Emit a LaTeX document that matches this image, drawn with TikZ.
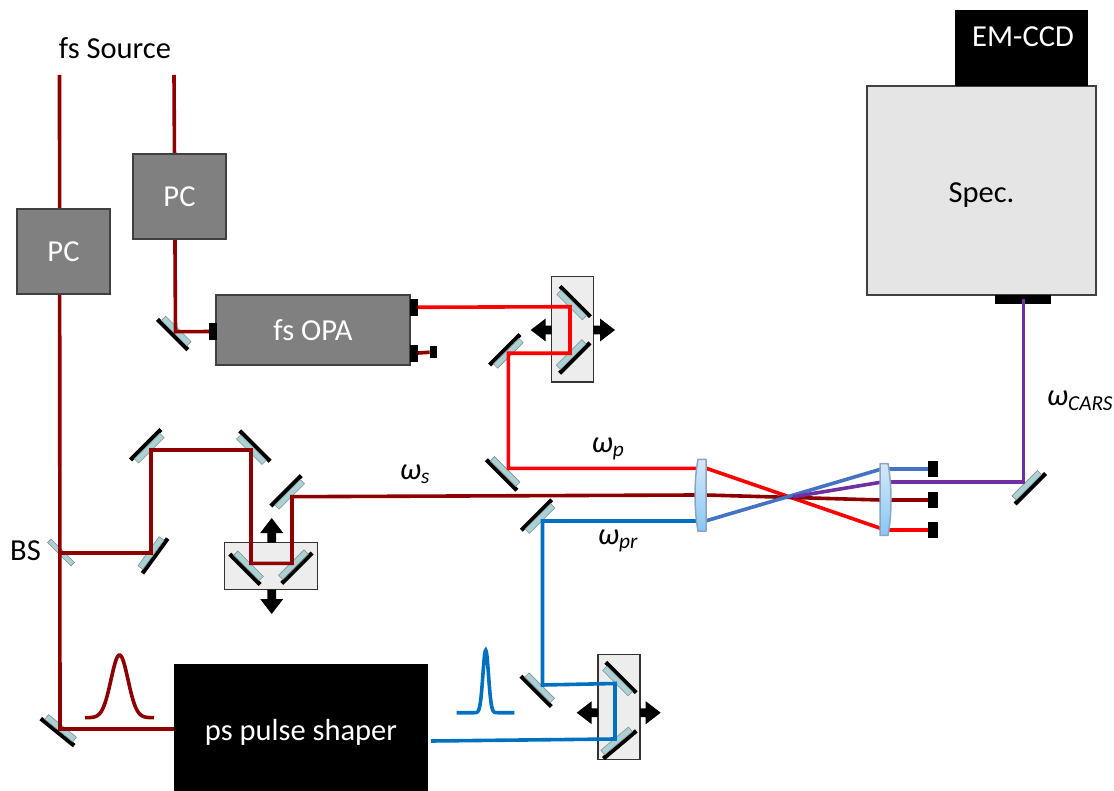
\documentclass[tikz,border=0pt]{standalone}
\usepackage{fontspec}
\setmainfont{Carlito}
\usetikzlibrary{calc}

\definecolor{beamred}{HTML}{FF0000}
\definecolor{beamdark}{HTML}{8E0000}
\definecolor{beamblue}{HTML}{0070C0}
\definecolor{beamsteel}{HTML}{4472C4}
\definecolor{beampurple}{HTML}{7030A0}
\definecolor{glasscol}{HTML}{A9D2D6}
\definecolor{lensedge}{HTML}{8EA4BE}
\definecolor{lenstop}{HTML}{D4E8F8}
\definecolor{lensbottom}{HTML}{88C8F6}

\tikzset{
    beam/.style={line width=3.6pt},
    labeltext/.style={font=\fontsize{30.5}{32}\selectfont, inner sep=0pt},
    greybox/.style={draw=black!75, line width=1.2pt, fill=black!50, text=white, inner sep=0pt, font=\fontsize{30.5}{32}\selectfont},
    blackbox/.style={fill=black, text=white, inner sep=0pt, font=\fontsize{30.5}{32}\selectfont},
    stagebox/.style={draw=black!80, line width=1.2pt, fill=black!7, inner sep=0pt},
    mirrorglass/.style={draw=black!45, line width=0.6pt, fill=glasscol, inner sep=0pt, minimum width=36pt, minimum height=6pt},
    mirrorback/.style={fill=black, inner sep=0pt, minimum width=43pt, minimum height=4.2pt},
    dumpblock/.style={fill=black, inner sep=0pt, minimum width=10pt, minimum height=16pt},
    portblock/.style={fill=black, inner sep=0pt, minimum width=7.5pt, minimum height=16.5pt},
}

% #1 name (beam corner), #2 corner, #3 angle, #4 glass offset from the corner
\newcommand{\mirror}[4]{
    \begin{scope}[shift={(#2)}, rotate=#3, transform shape]
        \node[mirrorback] (#1b) at (0, #4 + 5) {};
        \node[mirrorglass] (#1g) at (0, #4) {};
        \coordinate (#1) at (0, 0);
    \end{scope}
}
% #1 name, #2 centre, #3 1 bulges left, -1 bulges right
\newcommand{\lens}[3]{
    \begin{scope}[shift={(#2)}, xscale=#3]
        \coordinate (#1) at (0, 0);
        \draw[draw=lensedge, line width=1.5pt, top color=lenstop, bottom color=lensbottom, line join=round]
            (5.5, -35.7) -- (5.5, 36) -- (-2.5, 36) .. controls (-6.5, 14) and (-6.5, -14) .. (-2.5, -35.7) -- cycle;
    \end{scope}
}
% #1 name, #2 base, #3 angle, #4 length
\newcommand{\pusharrow}[4]{
    \begin{scope}[shift={(#2)}, rotate=#3]
        \coordinate (#1) at (0, 0);
        \fill[black] (0, -4.3) -- (#4 - 15, -4.3) -- (#4 - 15, -11.5) -- (#4, 0) -- (#4 - 15, 11.5) -- (#4 - 15, 4.3) -- (0, 4.3) -- cycle;
    \end{scope}
}
\newcommand{\omegalabel}[1]{\textit{ω\textsubscript{#1}}}

\begin{document}
\begin{tikzpicture}[x=1pt, y=-1pt]
    \useasboundingbox (0, 0) rectangle (1114, 791);

    % sources and stages
    \coordinate (srca) at (59.5, 75);
    \coordinate (srcb) at (174, 75);
    \node[labeltext] (srclabel) at (115, 48) {fs Source};
    \node[stagebox, minimum width=92.6pt, minimum height=47pt] (stagedelay) at (271, 566.2) {};
    \node[stagebox, minimum width=41.6pt, minimum height=105.3pt] (stagepump) at (572.5, 329.4) {};
    \node[stagebox, minimum width=42pt, minimum height=105pt] (stageprobe) at (619, 706.8) {};

    % mirrors
    \mirror{minp}{175.5, 331.7}{-45}{-1}
    \mirror{msrc}{60, 729}{-39}{-1}
    \mirror{mda}{151, 450}{225}{2.5}
    \mirror{mdb}{251, 450}{135}{0.5}
    \mirror{mdc}{292, 496.7}{225}{3.3}
    \mirror{mdd}{151, 553}{54}{0}
    \mirror{mde}{251, 563.3}{-45}{3.5}
    \mirror{mdf}{292, 563.3}{45}{2}
    \mirror{mpa}{570, 306.7}{135}{2.4}
    \mirror{mpb}{570, 353.3}{45}{1.7}
    \mirror{mpc}{508.3, 353.3}{225}{0}
    \mirror{mpd}{508.3, 468.3}{-45}{4.5}
    \mirror{mra}{542.5, 521}{225}{3.5}
    \mirror{mrb}{542.5, 685}{-45}{4}
    \mirror{mrc}{615, 683.5}{135}{3.5}
    \mirror{mrd}{615, 739}{40}{2.5}
    \mirror{mcars}{1023.3, 481.7}{45}{5}
    \node[mirrorglass, minimum width=33pt, minimum height=5pt, rotate=-45] (bs) at (61, 552.5) {};

    % blocks
    \node[greybox, minimum width=194pt, minimum height=70pt] (opa) at (313, 330) {fs OPA};
    \node[blackbox, minimum width=254pt, minimum height=127pt] (shaper) at (301, 727.5) {\raisebox{-5pt}[\height][\depth]{ps pulse shaper}};
    \node[portblock] (opain) at (213, 331.5) {};
    \node[portblock] (opaouta) at (413.8, 307.3) {};
    \node[portblock] (opaoutb) at (413.8, 353.3) {};
    \node[fill=black, inner sep=0pt, minimum width=7pt, minimum height=12pt] (opastop) at (433.3, 352) {};
    \node[dumpblock] (dumpb) at (933.3, 469) {};
    \node[dumpblock] (dumpd) at (933.3, 500) {};
    \node[dumpblock] (dumpr) at (933.3, 529.7) {};

    % lenses
    \coordinate (focus) at (793, 496.8);
    \coordinate (shapout) at (431, 741);
    \coordinate (lensa) at (700.5, 495);
    \coordinate (lensb) at (885.5, 499.3);

    % spectrometer
    \node[draw=black!75, line width=1.2pt, fill=black!10, inner sep=0pt, font=\fontsize{30.5}{32}\selectfont,
        minimum width=229pt, minimum height=209pt] (spec) at (981.5, 190.5) {\raisebox{-5pt}[\height][\depth]{Spec.}};
    \node[blackbox, minimum width=133pt, minimum height=76pt] (ccd) at (1021, 48) {};
    \node[text=white, font=\fontsize{30.5}{32}\selectfont, inner sep=0pt] (ccdlabel) at (1023, 37) {EM-CCD};
    \node[fill=black, inner sep=0pt, minimum width=56pt, minimum height=9pt] (slit) at (1023, 299.5) {};

    % beams
    \draw[beam, beamdark] (srcb) -- (minp) -- (opain);
    \draw[beam, beamdark] (srca) -- (msrc) -- (msrc -| shaper.west);
    \draw[beam, beamdark] (srca |- mdd) -- (mdd) -- (mda) -- (mdb) -- (mde) -- (mdf) -- (mdc) -- ($(lensa) + (-5, 0)$);
    \draw[beam, beamdark] (opaoutb) -- (opastop);
    \draw[beam, beamred] (opaouta) -- (mpa) -- (mpb) -- (mpc) -- (mpd) -- ($(lensa) + (-2.5, -26.7)$);
    \draw[beam, beamblue] (shapout) -- (mrd) -- (mrc) -- (mrb) -- (mra) -- ($(lensa) + (-2.5, 26)$);
    \draw[beam, beamred] ($(lensa) + (5, -27)$) -- ($(lensb) + (-5, 29)$);
    \draw[beam, beamred] ($(lensb) + (3, 30.4)$) -- (dumpr);
    \draw[beam, beamdark] ($(lensa) + (5, 0)$) -- ($(lensb) + (-5, 0.7)$);
    \draw[beam, beamdark] ($(lensb) + (5, 0.7)$) -- (dumpd);
    \draw[beam, beamsteel] ($(lensa) + (5, 26)$) -- ($(lensb) + (-5, -30)$);
    \draw[beam, beamsteel] ($(lensb) + (3, -30.3)$) -- (dumpb);
    \draw[beam, beampurple] (focus) -- ($(lensb) + (-5, -17)$);
    \draw[beam, beampurple] ($(lensb) + (5, -17.6)$) -- (mcars) -- (mcars |- slit);

    % blocks over the beams
    \node[greybox, minimum width=93pt, minimum height=85pt] (pca) at (63.5, 251.5) {PC};
    \node[greybox, minimum width=93pt, minimum height=85pt] (pcb) at (179.5, 196.5) {PC};
    \lens{lensaface}{700.5, 495}{1}
    \lens{lensbface}{885.5, 499.3}{-1}

    % stage arrows
    \pusharrow{delayup}{271.7, 542.7}{90}{24.7}
    \pusharrow{delaydown}{271.7, 589.7}{270}{24.3}
    \pusharrow{pumpleft}{551.7, 330}{180}{21}
    \pusharrow{pumpright}{593.3, 330}{0}{21.7}
    \pusharrow{probeleft}{598, 712.7}{180}{21.3}
    \pusharrow{proberight}{640, 712.7}{0}{20.7}

    % pulses
    \draw[beam, beamdark] plot[domain=85:154, samples=70] (\x, {717.7 - 62.7*exp(-((\x - 119.5)/8.5)^2/2)});
    \draw[beam, beamblue] plot[domain=456.7:514.3, samples=120] (\x, {712.7 - 62.4*exp(-((\x - 485.7)/2.8)^2/2)});

    % labels
    \node[labeltext] (bslabel) at (25.5, 551) {BS};
    \node[labeltext] (labels) at (415, 474) {\omegalabel{s}};
    \node[labeltext] (labelp) at (608, 449) {\omegalabel{p}};
    \node[labeltext] (labelpr) at (618, 541) {\omegalabel{pr}};
    \node[labeltext] (labelcars) at (1080, 401) {\omegalabel{CARS}};
\end{tikzpicture}
\end{document}
